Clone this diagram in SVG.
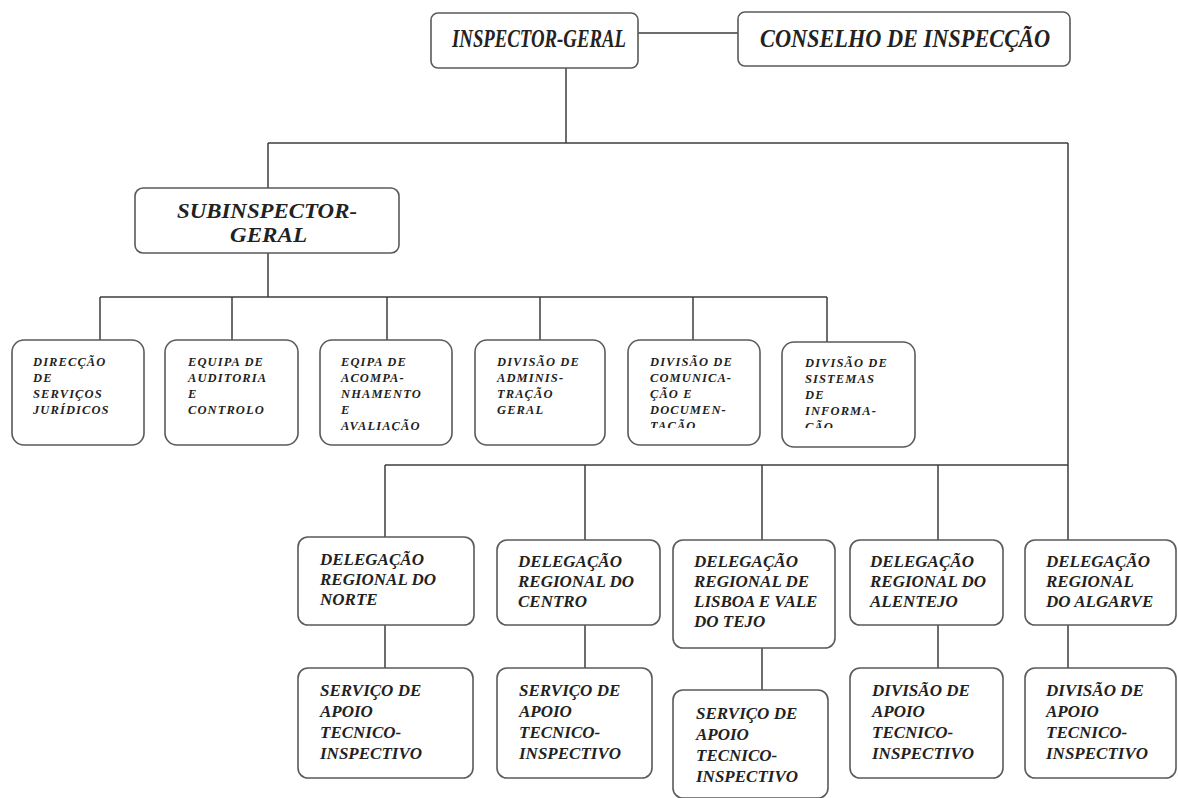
<svg xmlns="http://www.w3.org/2000/svg" width="1178" height="798" viewBox="0 0 1178 798">
<style>
.bg{fill:#ffffff}
.box{fill:#ffffff;stroke:#5a5a5a;stroke-width:1.6}
.ln{stroke:#3c3c3c;stroke-width:1.5;fill:none}
text{font-family:"Liberation Serif","Times New Roman",serif;font-weight:bold;font-style:italic;fill:#222222}
.big{font-size:25px}
.sub{font-size:22px}
.mid{font-size:17px}
.sm{font-size:12.5px;letter-spacing:1.1px}
</style>
<defs>
<clipPath id="c3"><rect x="320" y="340" width="132" height="91"/></clipPath>
<clipPath id="c5"><rect x="628" y="340" width="132" height="88"/></clipPath>
<clipPath id="c6"><rect x="782" y="342" width="133" height="86"/></clipPath>
</defs>
<rect class="bg" width="1178" height="798"/>
<g id="connectors">
<line class="ln" x1="638" y1="33" x2="738" y2="33"/>
<line class="ln" x1="566" y1="68" x2="566" y2="143"/>
<line class="ln" x1="268" y1="143" x2="1068" y2="143"/>
<line class="ln" x1="268" y1="143" x2="268" y2="188"/>
<line class="ln" x1="1068" y1="143" x2="1068" y2="465"/>
<line class="ln" x1="268" y1="253" x2="268" y2="297"/>
<line class="ln" x1="100" y1="297" x2="827" y2="297"/>
<line class="ln" x1="100" y1="297" x2="100" y2="340"/>
<line class="ln" x1="232" y1="297" x2="232" y2="340"/>
<line class="ln" x1="387" y1="297" x2="387" y2="340"/>
<line class="ln" x1="540" y1="297" x2="540" y2="340"/>
<line class="ln" x1="693" y1="297" x2="693" y2="340"/>
<line class="ln" x1="827" y1="297" x2="827" y2="342"/>
<line class="ln" x1="385" y1="465" x2="1068" y2="465"/>
<line class="ln" x1="385" y1="465" x2="385" y2="537"/>
<line class="ln" x1="585" y1="465" x2="585" y2="540"/>
<line class="ln" x1="762" y1="465" x2="762" y2="540"/>
<line class="ln" x1="938" y1="465" x2="938" y2="540"/>
<line class="ln" x1="1068" y1="465" x2="1068" y2="540"/>
<line class="ln" x1="385" y1="625" x2="385" y2="668"/>
<line class="ln" x1="585" y1="625" x2="585" y2="668"/>
<line class="ln" x1="762" y1="648" x2="762" y2="690"/>
<line class="ln" x1="938" y1="625" x2="938" y2="668"/>
<line class="ln" x1="1068" y1="625" x2="1068" y2="668"/>
</g>
<g id="inspector-geral">
<rect class="box" x="431" y="13" width="207" height="55" rx="7"/>
<text class="big" x="452" y="47" textLength="174" lengthAdjust="spacingAndGlyphs">INSPECTOR-GERAL</text>
</g>
<g id="conselho">
<rect class="box" x="738" y="12" width="332" height="54" rx="7"/>
<text class="big" x="760" y="47" textLength="290" lengthAdjust="spacingAndGlyphs">CONSELHO DE INSPECÇÃO</text>
</g>
<g id="subinspector">
<rect class="box" x="135" y="188" width="264" height="65" rx="8"/>
<text class="sub" x="177" y="218" textLength="180" lengthAdjust="spacingAndGlyphs">SUBINSPECTOR-</text>
<text class="sub" x="230" y="242" textLength="77" lengthAdjust="spacingAndGlyphs">GERAL</text>
</g>
<g id="dsj">
<rect class="box" x="12" y="340" width="132" height="105" rx="12"/>
<text class="sm"><tspan x="33" y="366">DIRECÇÃO</tspan><tspan x="33" y="382">DE</tspan><tspan x="33" y="398">SERVIÇOS</tspan><tspan x="33" y="414">JURÍDICOS</tspan></text>
</g>
<g id="eac">
<rect class="box" x="165" y="340" width="133" height="105" rx="12"/>
<text class="sm"><tspan x="188" y="366">EQUIPA DE</tspan><tspan x="188" y="382">AUDITORIA</tspan><tspan x="188" y="398">E</tspan><tspan x="188" y="414">CONTROLO</tspan></text>
</g>
<g id="eaa">
<rect class="box" x="320" y="340" width="132" height="105" rx="12"/>
<text class="sm" clip-path="url(#c3)"><tspan x="341" y="366">EQIPA DE</tspan><tspan x="341" y="382">ACOMPA-</tspan><tspan x="341" y="398">NHAMENTO</tspan><tspan x="341" y="414">E</tspan><tspan x="341" y="430">AVALIAÇÃO</tspan></text>
</g>
<g id="dag">
<rect class="box" x="475" y="340" width="130" height="105" rx="12"/>
<text class="sm"><tspan x="497" y="366">DIVISÃO DE</tspan><tspan x="497" y="382">ADMINIS-</tspan><tspan x="497" y="398">TRAÇÃO</tspan><tspan x="497" y="414">GERAL</tspan></text>
</g>
<g id="dcd">
<rect class="box" x="628" y="340" width="132" height="105" rx="12"/>
<text class="sm" clip-path="url(#c5)"><tspan x="650" y="366">DIVISÃO DE</tspan><tspan x="650" y="382">COMUNICA-</tspan><tspan x="650" y="398">ÇÃO E</tspan><tspan x="650" y="414">DOCUMEN-</tspan><tspan x="650" y="430">TAÇÃO</tspan></text>
</g>
<g id="dsi">
<rect class="box" x="782" y="342" width="133" height="105" rx="12"/>
<text class="sm" clip-path="url(#c6)"><tspan x="805" y="367">DIVISÃO DE</tspan><tspan x="805" y="383">SISTEMAS</tspan><tspan x="805" y="399">DE</tspan><tspan x="805" y="415">INFORMA-</tspan><tspan x="805" y="431">ÇÃO</tspan></text>
</g>
<g id="dr-norte">
<rect class="box" x="298" y="537" width="176" height="88" rx="10"/>
<text class="mid"><tspan x="320" y="565">DELEGAÇÃO</tspan><tspan x="320" y="585">REGIONAL DO</tspan><tspan x="320" y="605">NORTE</tspan></text>
</g>
<g id="dr-centro">
<rect class="box" x="497" y="540" width="163" height="85" rx="10"/>
<text class="mid"><tspan x="518" y="567">DELEGAÇÃO</tspan><tspan x="518" y="587">REGIONAL DO</tspan><tspan x="518" y="607">CENTRO</tspan></text>
</g>
<g id="dr-lisboa">
<rect class="box" x="673" y="540" width="162" height="108" rx="10"/>
<text class="mid"><tspan x="694" y="567">DELEGAÇÃO</tspan><tspan x="694" y="587">REGIONAL DE</tspan><tspan x="694" y="607">LISBOA E VALE</tspan><tspan x="694" y="627">DO TEJO</tspan></text>
</g>
<g id="dr-alentejo">
<rect class="box" x="850" y="540" width="153" height="85" rx="10"/>
<text class="mid"><tspan x="870" y="567">DELEGAÇÃO</tspan><tspan x="870" y="587">REGIONAL DO</tspan><tspan x="870" y="607">ALENTEJO</tspan></text>
</g>
<g id="dr-algarve">
<rect class="box" x="1025" y="540" width="151" height="85" rx="10"/>
<text class="mid"><tspan x="1046" y="567">DELEGAÇÃO</tspan><tspan x="1046" y="587">REGIONAL</tspan><tspan x="1046" y="607">DO ALGARVE</tspan></text>
</g>
<g id="sati-norte">
<rect class="box" x="298" y="668" width="175" height="110" rx="10"/>
<text class="mid"><tspan x="320" y="696">SERVIÇO DE</tspan><tspan x="320" y="717">APOIO</tspan><tspan x="320" y="738">TECNICO-</tspan><tspan x="320" y="759">INSPECTIVO</tspan></text>
</g>
<g id="sati-centro">
<rect class="box" x="497" y="668" width="155" height="110" rx="10"/>
<text class="mid"><tspan x="519" y="696">SERVIÇO DE</tspan><tspan x="519" y="717">APOIO</tspan><tspan x="519" y="738">TECNICO-</tspan><tspan x="519" y="759">INSPECTIVO</tspan></text>
</g>
<g id="sati-lisboa">
<rect class="box" x="673" y="690" width="155" height="108" rx="10"/>
<text class="mid"><tspan x="696" y="719">SERVIÇO DE</tspan><tspan x="696" y="740">APOIO</tspan><tspan x="696" y="761">TECNICO-</tspan><tspan x="696" y="782">INSPECTIVO</tspan></text>
</g>
<g id="dati-alentejo">
<rect class="box" x="850" y="668" width="153" height="110" rx="10"/>
<text class="mid"><tspan x="872" y="696">DIVISÃO DE</tspan><tspan x="872" y="717">APOIO</tspan><tspan x="872" y="738">TECNICO-</tspan><tspan x="872" y="759">INSPECTIVO</tspan></text>
</g>
<g id="dati-algarve">
<rect class="box" x="1025" y="668" width="151" height="110" rx="10"/>
<text class="mid"><tspan x="1046" y="696">DIVISÃO DE</tspan><tspan x="1046" y="717">APOIO</tspan><tspan x="1046" y="738">TECNICO-</tspan><tspan x="1046" y="759">INSPECTIVO</tspan></text>
</g>
</svg>
